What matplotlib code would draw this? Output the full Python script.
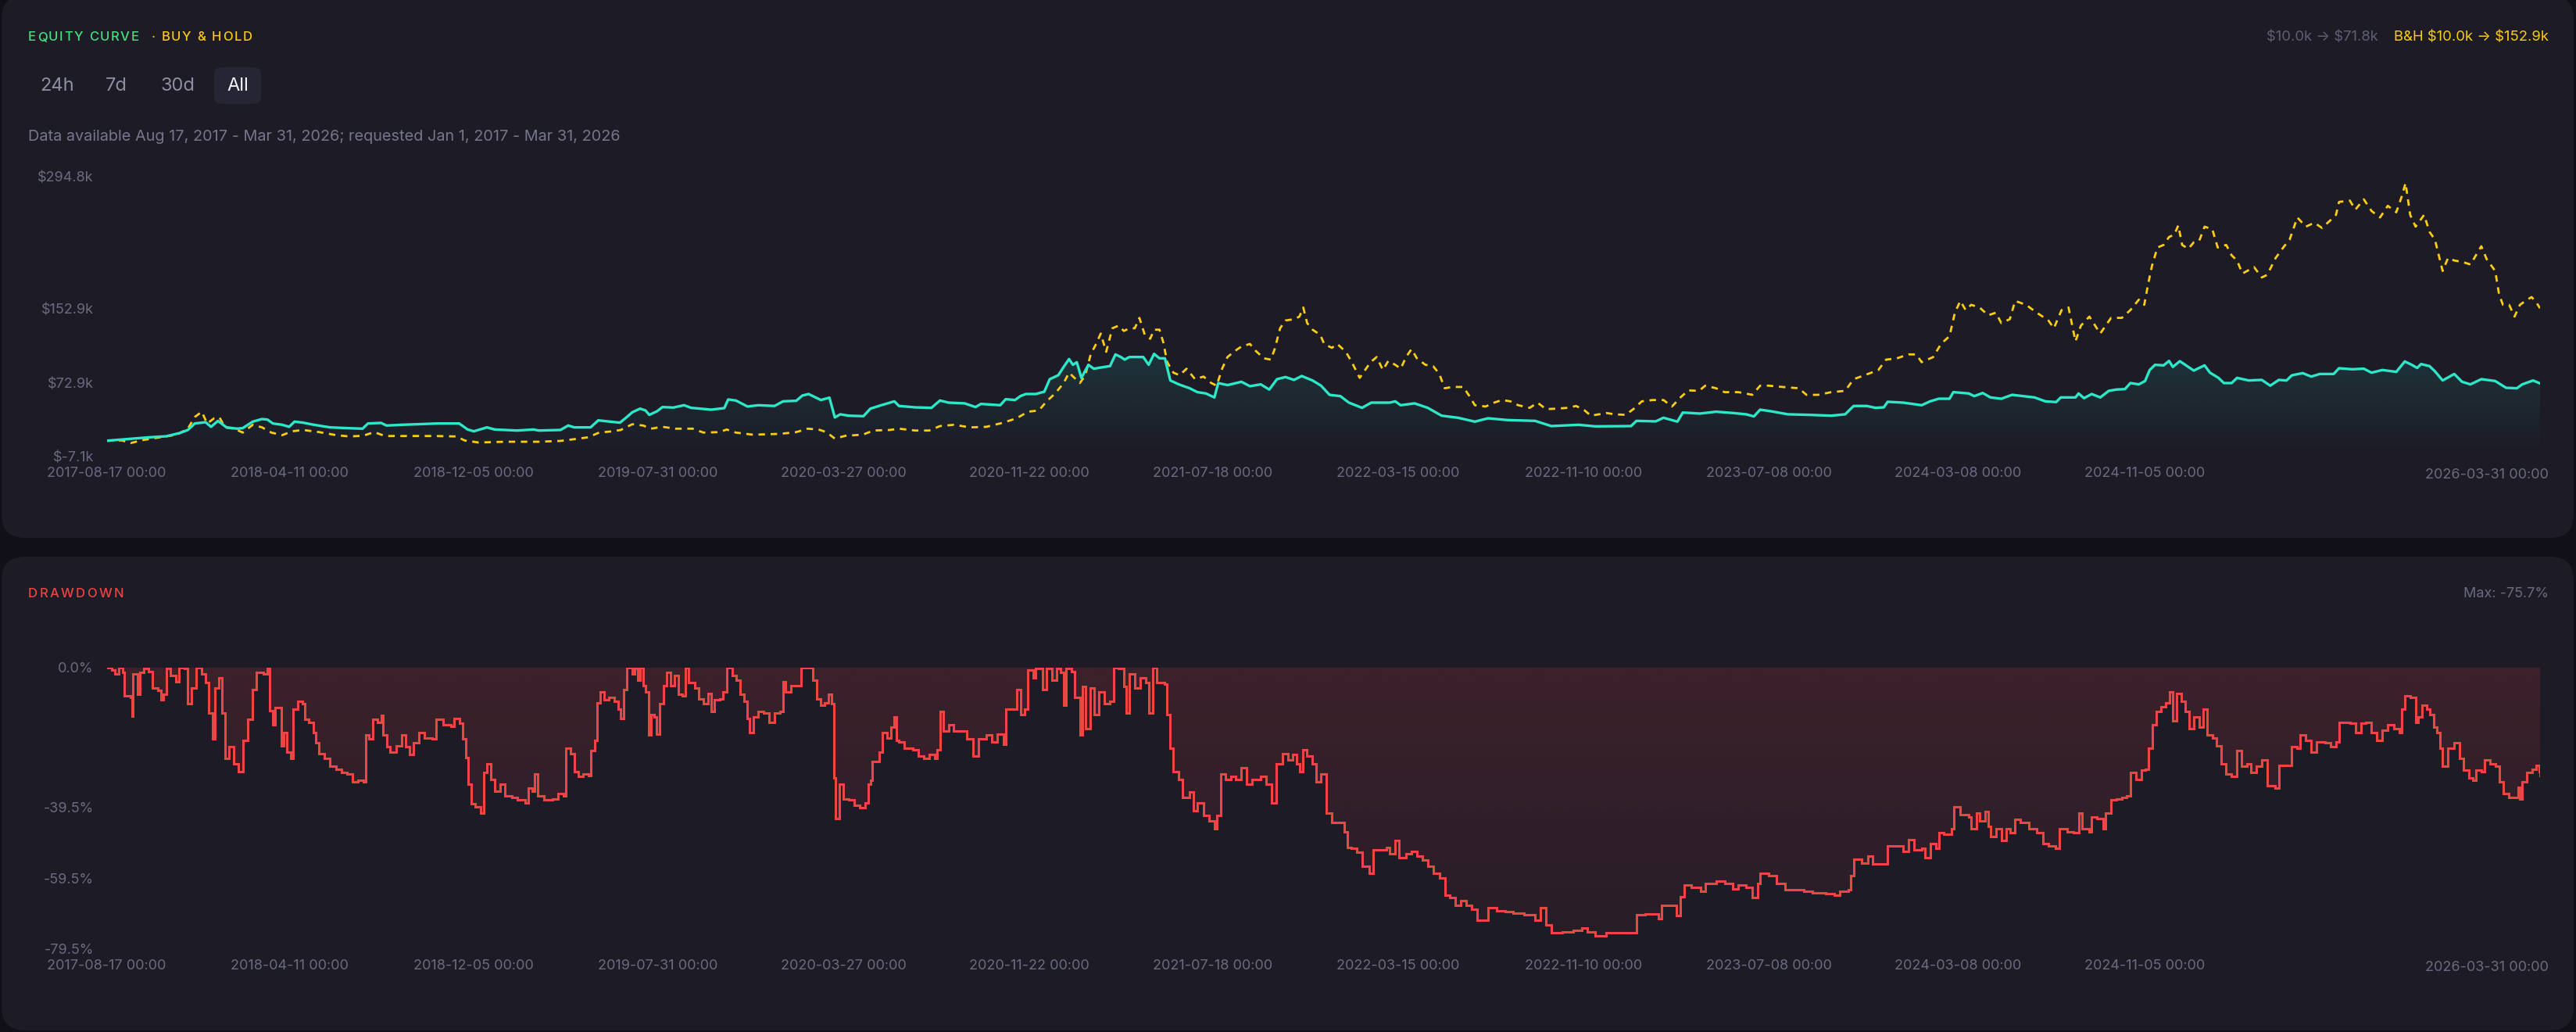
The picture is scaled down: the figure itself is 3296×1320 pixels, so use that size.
import datetime as dt
import numpy as np
import matplotlib
matplotlib.use('Agg')
import matplotlib.pyplot as plt
import matplotlib.dates as mdates
from matplotlib.patches import FancyBboxPatch, Polygon
from matplotlib.colors import to_rgb

plt.rcParams['font.family'] = ['Inter', 'DejaVu Sans']

W, H = 3296, 1320
BG = '#111019'
CARD = '#1c1b26'
MUTED = '#6b6b80'
CYAN = '#2ee6c8'
GOLD = '#facc15'
RED = '#ef4444'
GREEN = '#4ade80'
TICK_SIZE = 13

start = dt.datetime(2017, 8, 17)

# strategy equity, $k  (x = days since 2017-08-17)
eq_days = [0, 34, 55, 77, 94, 105, 114, 128, 135, 144,
           155, 169, 176, 189, 201, 208, 215, 227, 236, 243,
           254, 268, 289, 311, 331, 338, 355, 362, 382, 403,
           428, 456, 467, 475, 492, 502, 531, 552, 559, 587,
           597, 605, 626, 636, 651, 664, 673, 680, 690, 697,
           702, 712, 719, 733, 747, 756, 768, 782, 799, 804,
           814, 829, 843, 864, 875, 892, 900, 908, 917, 924,
           935, 942, 949, 960, 979, 988, 1002, 1019,
           1025, 1046, 1067, 1078, 1089, 1110, 1124, 1131, 1156, 1163,
           1175, 1182, 1189, 1202, 1213, 1220, 1231, 1238, 1245, 1250,
           1255, 1261, 1270, 1277, 1287, 1298, 1305, 1312, 1317, 1323,
           1341, 1348, 1355, 1362, 1369, 1376, 1387, 1401, 1411, 1422,
           1433, 1438, 1450, 1468, 1479, 1493, 1504, 1514, 1525, 1536,
           1546, 1560, 1571, 1582, 1596, 1607, 1624, 1636, 1660, 1667,
           1674, 1692, 1709, 1727, 1748, 1770, 1787, 1812, 1848, 1855,
           1869, 1904, 1926, 1972, 1979, 2004, 2014, 2032, 2039, 2061,
           2082, 2104, 2121, 2131, 2139, 2153, 2175, 2203, 2231, 2249,
           2260, 2277, 2288, 2299, 2304, 2324, 2348, 2359, 2370, 2384,
           2389, 2409, 2416, 2427, 2437, 2451, 2465, 2494, 2508, 2522,
           2528, 2547, 2551, 2558, 2568, 2579, 2590, 2600, 2611, 2618,
           2629, 2637, 2643, 2650, 2661, 2668, 2673, 2682, 2693, 2700,
           2714, 2721, 2732, 2739, 2749, 2756, 2771, 2788, 2799, 2810,
           2820, 2827, 2841, 2852, 2863, 2881, 2888, 2905, 2920, 2930,
           2944, 2962, 2973, 2982, 2989, 2994, 3005, 3012, 3022, 3037,
           3047, 3058, 3072, 3090, 3104, 3118, 3125, 3139, 3148]
eq_vals = [10.0, 12.3, 13.7, 14.8, 18.2, 21.6, 28.6, 30.0, 25.0, 31.4,
           24.4, 23.0, 23.6, 30.6, 33.4, 32.8, 28.6, 27.2, 25.0, 30.6,
           29.5, 27.2, 24.4, 23.6, 23.0, 28.6, 29.2, 26.4, 27.2, 27.8,
           28.6, 28.6, 22.1, 20.2, 24.4, 22.1, 21.0, 22.1, 21.0, 21.6,
           26.4, 24.4, 24.4, 32.0, 30.6, 29.5, 35.6, 40.7, 44.6, 42.7,
           37.9, 41.8, 46.3, 45.8, 48.3, 45.5, 44.6, 43.5, 45.2, 54.5,
           53.4, 46.9, 48.3, 47.5, 52.5, 53.1, 58.7, 60.4, 56.7, 53.9,
           56.5, 35.1, 38.5, 37.0, 36.5, 44.6, 48.3, 52.5,
           47.5, 46.0, 45.5, 53.4, 51.1, 50.3, 46.3, 49.7, 48.3, 54.8,
           53.9, 58.1, 60.4, 60.4, 62.9, 76.4, 80.6, 89.6, 98.1, 91.9,
           94.7, 77.8, 91.9, 87.7, 89.1, 90.5, 103.1, 100.3, 97.5, 100.3,
           100.3, 91.9, 103.7, 98.9, 98.9, 75.0, 70.8, 66.6, 62.4, 61.0,
           56.7, 72.2, 70.0, 73.6, 68.8, 70.8, 65.2, 76.4, 78.7, 75.6,
           79.8, 75.0, 69.4, 59.5, 58.1, 51.1, 45.5, 51.1, 51.1, 52.5,
           48.3, 50.3, 45.5, 37.0, 34.8, 30.6, 34.2, 32.3, 31.4, 29.5,
           25.8, 27.2, 25.5, 25.8, 31.4, 30.9, 34.8, 30.6, 40.4, 39.3,
           41.3, 39.9, 38.5, 36.2, 43.5, 41.8, 38.5, 37.9, 37.0, 38.5,
           47.5, 47.5, 45.5, 46.0, 52.0, 51.1, 48.3, 52.5, 55.3, 55.3,
           62.4, 61.0, 58.1, 61.5, 56.7, 55.3, 59.5, 56.7, 52.5, 51.7,
           56.7, 56.7, 61.0, 55.9, 60.4, 56.7, 63.8, 65.2, 65.7, 72.2,
           70.8, 74.4, 86.3, 91.9, 91.3, 96.1, 89.6, 95.8, 89.6, 85.7,
           91.3, 83.4, 77.8, 72.2, 72.2, 77.8, 75.0, 75.6, 69.4, 75.6,
           75.0, 80.6, 82.9, 79.2, 82.0, 82.0, 88.2, 87.1, 87.7, 83.4,
           86.3, 84.3, 95.5, 91.9, 88.5, 92.7, 90.5, 84.9, 75.0, 82.0,
           73.6, 70.8, 76.4, 74.4, 67.1, 66.6, 70.8, 75.0, 71.8]

# buy & hold equity, $k
bh_days = [0, 20, 31, 48, 69, 91, 105, 114, 123, 130,
           139, 146, 153, 165, 176, 189, 201, 213, 227, 240,
           254, 275, 297, 314, 332, 346, 360, 389, 424, 453,
           463, 481, 516, 559, 587, 605, 623, 637, 655, 665,
           680, 694, 704, 719, 736, 758, 772, 793, 802, 814,
           836, 871, 892, 907, 921, 931, 942, 956, 978, 992,
           1013,
           1025, 1046, 1064, 1078, 1096, 1117, 1138, 1160, 1177, 1192,
           1206, 1216, 1227, 1238, 1245, 1252, 1259, 1266, 1273, 1280,
           1286, 1293, 1301, 1309, 1316, 1323, 1330, 1336, 1343, 1350,
           1355, 1362, 1367, 1372, 1380, 1388, 1397, 1408, 1419, 1429,
           1436, 1443, 1450, 1459, 1468, 1479, 1486, 1497, 1506, 1511,
           1518, 1525, 1536, 1543, 1548, 1553, 1560, 1570, 1575, 1585,
           1592, 1603, 1610, 1621, 1628, 1635, 1643, 1651, 1658, 1667,
           1674, 1681, 1688, 1695, 1706, 1716, 1724, 1731, 1741, 1755,
           1763, 1770, 1784, 1795, 1805, 1816, 1826, 1841, 1851, 1862,
           1876, 1890, 1901, 1912, 1920, 1940, 1951, 1965, 1975, 1986,
           2000, 2014, 2025, 2036, 2046, 2060, 2068,
           2082, 2093, 2111, 2129, 2139, 2150, 2168, 2189, 2199, 2214,
           2231, 2249, 2260, 2274, 2292, 2302, 2316, 2331, 2341, 2348,
           2363, 2373, 2384, 2391, 2398, 2405, 2412, 2423, 2434, 2444,
           2451, 2462, 2469, 2483, 2497, 2512, 2519, 2529, 2538, 2547,
           2554, 2565, 2579, 2593, 2607, 2618, 2629, 2636, 2641, 2646,
           2653, 2661, 2668, 2675, 2680, 2685, 2693, 2700, 2707, 2714,
           2724, 2731, 2742, 2749, 2756, 2763, 2778, 2788, 2795, 2806,
           2817, 2824, 2834, 2845, 2856, 2866, 2877, 2884, 2888, 2902,
           2909, 2920, 2930, 2941, 2951, 2962, 2969, 2974, 2980, 2987,
           2998, 3005, 3012, 3017, 3022, 3029, 3037, 3047, 3058, 3065,
           3072, 3079, 3090, 3095, 3100, 3108, 3115, 3122, 3129, 3137,
           3143, 3148]
bh_vals = [10.0, 10.3, 7.5, 10.9, 13.7, 16.5, 23.0, 35.6, 41.3, 28.6,
           34.2, 35.1, 24.4, 23.0, 18.8, 27.2, 24.4, 18.8, 16.0, 20.2,
           21.6, 19.3, 16.0, 14.6, 15.4, 19.3, 15.1, 15.1, 15.1, 14.6,
           10.3, 8.1, 8.9, 8.9, 9.8, 11.7, 13.7, 18.8, 20.2, 21.6,
           27.8, 26.4, 23.0, 25.0, 23.0, 23.0, 18.8, 19.3, 22.1, 18.8,
           16.5, 17.4, 19.3, 23.0, 22.1, 19.3, 12.3, 15.4, 16.5, 21.0,
           21.6,
           23.0, 21.0, 21.0, 25.8, 27.2, 24.4, 25.0, 29.5, 34.2, 41.3,
           42.7, 52.5, 61.0, 72.2, 83.4, 77.8, 72.2, 80.6, 103.1, 114.4,
           125.6, 105.9, 131.3, 134.1, 128.4, 131.3, 131.3, 142.5, 124.2, 120.0,
           129.8, 129.8, 115.8, 94.7, 83.4, 80.6, 87.7, 76.4, 79.2, 72.2,
           69.4, 87.7, 100.3, 106.5, 111.6, 114.4, 107.3, 98.9, 97.5, 108.8,
           131.3, 139.7, 141.1, 143.9, 153.7, 136.9, 129.8, 124.2, 114.4, 110.2,
           114.4, 105.9, 96.1, 77.8, 86.3, 94.7, 100.3, 86.3, 96.1, 91.9,
           87.7, 100.3, 108.8, 98.9, 91.9, 90.5, 82.0, 66.6, 68.0, 68.0,
           58.1, 48.3, 46.9, 51.1, 53.9, 52.5, 48.3, 45.5, 51.1, 44.1,
           44.6, 45.5, 47.5, 42.7, 37.0, 39.9, 38.5, 37.9, 44.1, 52.5,
           53.9, 53.9, 46.9, 56.7, 64.3, 63.8, 69.4,
           66.6, 62.4, 62.4, 59.5, 69.4, 69.4, 68.0, 66.6, 59.5, 59.5,
           62.4, 63.8, 76.4, 80.6, 86.3, 97.5, 98.9, 103.1, 103.1, 94.7,
           100.3, 114.4, 122.8, 148.1, 160.8, 150.9, 156.6, 153.7, 145.3, 148.1,
           136.9, 141.1, 160.8, 156.6, 148.1, 139.7, 131.3, 150.9, 153.7, 117.2,
           134.1, 143.9, 125.6, 142.5, 142.5, 150.9, 162.2, 156.6, 179.1, 198.7,
           218.4, 221.2, 229.7, 232.5, 242.3, 221.2, 217.0, 224.0, 225.5, 240.9,
           238.1, 218.4, 221.2, 210.0, 204.4, 190.3, 197.3, 186.1, 188.9, 207.2,
           219.8, 226.9, 250.8, 240.9, 245.1, 239.5, 248.0, 253.6, 267.6, 269.0,
           259.2, 270.4, 257.8, 250.8, 263.4, 256.4, 273.3, 288.0, 253.6, 240.9,
           253.6, 235.3, 226.9, 210.0, 193.1, 207.2, 204.4, 203.0, 200.1, 210.0,
           219.8, 205.8, 193.1, 167.8, 156.6, 156.6, 143.9, 156.6, 160.8, 165.0,
           159.4, 152.9]

# strategy drawdown, %
dd_days = [0, 7, 11, 16, 21, 23, 31, 33, 34, 40,
           43, 48, 54, 59, 66, 70, 73, 77, 82, 89,
           94, 101, 105, 110, 116, 123, 128, 132, 137, 140,
           145, 149, 153, 158, 164, 170, 176, 183, 189, 194,
           203, 208, 211, 215, 218, 226, 229, 233, 238, 241,
           247, 253, 256, 261, 267, 270, 275, 282, 289, 297,
           304, 311, 318, 325, 332, 335, 339, 344, 350, 355,
           357, 362, 367, 375, 382, 387, 392, 397, 404, 411,
           421, 426, 435, 445, 449, 456, 461, 465, 468, 472,
           477, 484, 488, 492, 497, 502, 509, 515, 524, 531,
           541, 545, 551, 554, 558, 566, 577, 584, 591, 594,
           600, 605, 610, 616, 623, 626, 631, 634, 638, 644,
           650, 657, 662, 665, 669, 673, 680, 683, 687, 690,
           694, 697, 701, 704, 708, 711, 715, 720, 724, 729,
           735, 740, 745, 749, 753, 761, 766, 772, 778, 782,
           786, 793, 797, 802, 809, 814, 819, 825, 829, 832,
           837, 843, 850, 857, 864, 871, 875, 878, 885, 892,
           898, 907, 914, 919, 924, 929, 934, 938, 941, 943,
           948, 953, 960, 967, 974, 981, 985, 988, 990, 995,
           999, 1004, 1010, 1015, 1019, 1022,
           1025, 1032, 1043, 1050, 1057, 1064, 1071, 1074, 1078, 1082,
           1089, 1096, 1106, 1113, 1121, 1128, 1138, 1145, 1152, 1160,
           1163, 1170, 1177, 1182, 1188, 1192, 1199, 1202, 1211, 1216,
           1223, 1229, 1234, 1238, 1241, 1248, 1252, 1259, 1262, 1266,
           1272, 1277, 1284, 1291, 1298, 1303, 1309, 1316, 1319, 1323,
           1330, 1337, 1344, 1348, 1353, 1358, 1369, 1372, 1376, 1380,
           1387, 1392, 1401, 1406, 1411, 1419, 1426, 1433, 1436, 1441,
           1447, 1454, 1461, 1468, 1475, 1482, 1493, 1500, 1507, 1513,
           1521, 1528, 1534, 1539, 1543, 1547, 1553, 1560, 1565, 1571,
           1578, 1585, 1592, 1601, 1605, 1610, 1617, 1624, 1633, 1638,
           1649, 1656, 1660, 1667, 1672, 1681, 1688, 1695, 1702, 1709,
           1716, 1724, 1731, 1738, 1745, 1752, 1759, 1766, 1773, 1784,
           1787, 1798, 1809, 1819, 1834, 1848, 1855, 1862, 1869, 1883,
           1897, 1908, 1915, 1926, 1940, 1954, 1972, 1979, 1990, 2007,
           2012, 2024, 2031, 2036, 2041, 2050, 2062, 2068,
           2082, 2093, 2104, 2111, 2121, 2129, 2136, 2139, 2150, 2160,
           2171, 2185, 2196, 2207, 2214, 2224, 2235, 2242, 2253, 2256,
           2260, 2270, 2278, 2285, 2295, 2304, 2317, 2324, 2331, 2338,
           2348, 2352, 2359, 2366, 2370, 2377, 2387, 2390, 2398, 2409,
           2412, 2419, 2423, 2430, 2434, 2437, 2444, 2451, 2457, 2462,
           2469, 2476, 2487, 2497, 2505, 2512, 2521, 2526, 2536, 2544,
           2551, 2556, 2565, 2568, 2575, 2583, 2586, 2593, 2600, 2607,
           2613, 2618, 2625, 2632, 2637, 2641, 2646, 2652, 2658, 2664,
           2669, 2673, 2678, 2684, 2689, 2694, 2700, 2707, 2712, 2717,
           2724, 2729, 2735, 2742, 2749, 2756, 2762, 2769, 2774, 2781,
           2788, 2795, 2805, 2810, 2820, 2826, 2834, 2838, 2845, 2852,
           2859, 2870, 2877, 2884, 2888, 2902, 2909, 2916, 2923, 2930,
           2937, 2944, 2951, 2959, 2966, 2969, 2973, 2980, 2987, 2990,
           2995, 3001, 3005, 3010, 3015, 3019, 3022, 3029, 3037, 3044,
           3049, 3056, 3061, 3065, 3072, 3076, 3083, 3090, 3095, 3100,
           3108, 3115, 3120, 3122, 3125, 3131, 3138, 3143, 3147, 3148]
dd_vals = [0.0, -0.7, -1.8, 0.0, -1.4, -8.0, -8.4, -13.7, -1.8, -7.6,
           -1.4, -0.3, -1.0, -5.8, -6.5, -9.1, -7.6, -0.3, -2.1, -4.0,
           0.0, -0.3, -10.2, -5.8, 0.0, -1.8, -4.3, -12.8, -20.1, -5.8,
           -2.9, -12.8, -25.7, -22.4, -27.1, -29.3, -20.5, -14.6, -6.2, -1.4,
           -1.8, 0.0, -12.1, -16.1, -11.3, -22.0, -18.3, -23.8, -25.7, -11.7,
           -9.5, -10.2, -14.6, -15.4, -18.3, -21.3, -24.2, -25.7, -27.9, -28.6,
           -29.7, -30.1, -32.3, -31.9, -32.3, -19.0, -20.1, -14.6, -15.4, -13.5,
           -19.0, -22.4, -23.8, -22.0, -19.0, -22.4, -24.6, -21.3, -18.3, -19.8,
           -20.1, -14.6, -16.1, -16.5, -14.3, -15.7, -20.1, -25.3, -33.0, -38.5,
           -39.3, -41.1, -29.7, -27.1, -31.5, -34.9, -33.0, -36.3, -36.7, -37.4,
           -38.2, -34.1, -34.9, -30.1, -36.3, -37.4, -37.1, -35.6, -36.3, -22.7,
           -24.2, -29.3, -30.8, -30.1, -30.4, -23.5, -20.5, -9.9, -6.9, -9.1,
           -8.4, -9.5, -11.7, -14.3, -6.2, 0.0, -1.8, -0.3, -3.6, 0.0,
           -5.1, -6.9, -19.0, -13.2, -13.9, -18.7, -10.2, -5.1, -1.4, -5.1,
           -2.1, -7.6, -8.0, 0.0, -4.3, -5.8, -8.8, -10.2, -7.3, -12.4,
           -9.1, -8.8, -6.9, 0.0, -2.1, -3.6, -7.6, -9.5, -14.3, -18.3,
           -13.9, -12.4, -12.8, -15.4, -12.8, -12.4, -4.0, -6.9, -5.1, -5.1,
           0.0, 0.0, -3.6, -8.8, -10.6, -9.9, -7.6, -10.2, -31.2, -42.6,
           -33.0, -37.1, -37.4, -38.9, -39.6, -38.2, -33.0, -31.9, -26.4, -26.4,
           -23.8, -18.3, -19.8, -16.8, -13.9, -20.5,
           -20.9, -22.7, -23.1, -24.9, -25.7, -24.6, -25.7, -23.1, -12.4, -17.9,
           -16.1, -17.9, -17.9, -20.1, -24.9, -20.1, -19.0, -20.9, -18.7, -21.6,
           -11.7, -11.7, -6.2, -13.2, -11.7, -0.7, -2.9, -0.3, -6.2, -0.3,
           -3.6, -0.3, -1.4, -10.6, -0.3, -1.0, -8.4, -19.0, -5.4, -17.2,
           -5.8, -13.2, -6.9, -10.2, -9.5, 0.0, -0.3, -5.4, -12.8, -1.8,
           -5.8, -2.9, -4.3, -12.8, 0.0, -4.3, -4.7, -13.2, -22.7, -29.3,
           -31.5, -36.7, -35.2, -40.4, -38.2, -41.8, -43.3, -45.5, -41.8, -30.1,
           -31.5, -30.8, -31.5, -28.2, -33.0, -31.5, -30.8, -33.0, -38.2, -27.1,
           -24.2, -26.0, -24.6, -27.1, -29.3, -23.1, -24.9, -27.1, -32.3, -30.1,
           -41.1, -43.7, -43.7, -46.3, -50.7, -51.0, -52.1, -56.2, -58.0, -51.4,
           -51.4, -50.7, -52.5, -48.8, -53.6, -52.5, -51.8, -53.2, -54.3, -56.2,
           -58.0, -59.5, -64.3, -65.0, -67.2, -65.7, -67.2, -68.3, -71.3, -71.3,
           -67.9, -68.7, -69.0, -69.4, -69.8, -71.3, -67.9, -72.7, -74.9, -74.6,
           -74.2, -73.5, -74.6, -75.7, -74.9, -74.9, -74.8, -69.8, -69.6, -70.9,
           -67.2, -67.2, -70.1, -64.6, -61.3, -62.1, -63.2, -61.0,
           -60.2, -61.0, -62.4, -61.3, -62.1, -65.0, -61.0, -58.0, -58.8, -61.0,
           -62.8, -62.8, -63.2, -63.5, -63.5, -63.9, -64.3, -63.2, -62.8, -58.8,
           -54.0, -55.1, -53.2, -55.4, -55.4, -50.3, -50.3, -51.8, -48.5, -51.4,
           -51.0, -53.6, -49.6, -51.0, -46.6, -47.0, -45.5, -39.3, -41.5, -42.2,
           -45.5, -41.1, -43.3, -40.7, -44.8, -47.7, -45.5, -48.8, -45.5, -46.6,
           -42.9, -43.7, -45.5, -46.6, -49.6, -50.3, -51.0, -45.5, -46.3, -46.6,
           -41.1, -45.5, -46.3, -42.2, -42.6, -45.5, -41.1, -37.4, -37.1, -36.7,
           -36.3, -29.7, -31.5, -29.0, -28.6, -22.7, -16.1, -12.4, -11.0, -9.9,
           -6.9, -15.0, -7.3, -9.5, -12.4, -17.2, -13.9, -16.8, -11.7, -19.0,
           -19.8, -22.0, -27.1, -30.1, -30.8, -23.5, -27.9, -27.1, -29.7, -27.9,
           -26.0, -33.4, -34.1, -27.5, -27.5, -22.4, -22.7, -19.0, -20.5, -23.8,
           -20.9, -21.3, -22.4, -20.9, -15.4, -15.7, -18.3, -15.7, -15.4, -18.3,
           -20.5, -17.6, -16.1, -17.2, -18.3, -11.7, -8.0, -8.4, -15.4, -13.9,
           -10.6, -11.7, -13.2, -16.8, -18.3, -22.7, -27.9, -22.7, -21.3, -25.7,
           -29.0, -31.2, -31.9, -29.0, -29.3, -26.0, -27.1, -27.9, -32.3, -35.6,
           -36.7, -36.7, -33.8, -37.1, -32.3, -29.7, -28.6, -27.5, -29.3, -30.4]

tick_dates = ['2017-08-17', '2018-04-11', '2018-12-05', '2019-07-31',
              '2020-03-27', '2020-11-22', '2021-07-18', '2022-03-15',
              '2022-11-10', '2023-07-08', '2024-03-08', '2024-11-05',
              '2026-03-31']
eq_ticks = [-7.1, 72.9, 152.9, 294.8]
eq_tick_labels = [r'\$-7.1k', r'\$72.9k', r'\$152.9k', r'\$294.8k']
dd_ticks = [0.0, -39.5, -59.5, -79.5]
dd_tick_labels = ['0.0%', '-39.5%', '-59.5%', '-79.5%']
end_day = 3148


def to_num(days):
    return mdates.date2num([start + dt.timedelta(days=d) for d in days])


def steps(x, y):
    return np.repeat(x, 2)[1:], np.repeat(y, 2)[:-1]


def gradient_fill(ax, xs, ys, base, color, a_hi, a_lo, y_hi, y_lo):
    verts = np.column_stack([np.r_[xs[0], xs, xs[-1]], np.r_[base, ys, base]])
    poly = Polygon(verts, closed=True, fc='none', ec='none')
    ax.add_patch(poly)
    g = np.zeros((256, 1, 4))
    g[..., :3] = to_rgb(color)
    g[:, 0, 3] = np.linspace(a_hi, a_lo, 256)
    im = ax.imshow(g, aspect='auto', origin='upper', interpolation='bilinear',
                   extent=[xs[0], xs[-1], y_lo, y_hi], zorder=1)
    im.set_clip_path(poly)


def spaced(ax, x, y, s, size, color, gap, weight='medium'):
    r = fig.canvas.get_renderer()
    for ch in s:
        if ch == ' ':
            x += size * 100 / 72 * 0.28 + gap
            continue
        t = ax.text(x, y, ch, ha='left', va='center', fontsize=size,
                    color=color, fontweight=weight)
        x += t.get_window_extent(renderer=r).width + gap
    return x


def style_axes(ax, yticks, ylabels, ylim):
    x0, x1 = to_num([0, end_day])
    ax.set_xlim(x0, x1)
    ax.set_ylim(*ylim)
    ax.set_facecolor('none')
    for s in ax.spines.values():
        s.set_visible(False)
    tx = mdates.date2num([dt.datetime.strptime(d, '%Y-%m-%d') for d in tick_dates])
    ax.set_xticks(tx[:-1])
    ax.set_xticklabels([d + ' 00:00' for d in tick_dates[:-1]])
    ax.set_yticks(yticks)
    ax.set_yticklabels(ylabels)
    ax.tick_params(length=0, labelsize=TICK_SIZE, labelcolor=MUTED)
    ax.tick_params(axis='x', pad=9)
    ax.tick_params(axis='y', pad=12)
    ax.annotate(tick_dates[-1] + ' 00:00', xy=(1, 0), xycoords='axes fraction',
                xytext=(11 * 0.72, -23 * 0.72), textcoords='offset points',
                ha='right', va='center', fontsize=TICK_SIZE, color=MUTED)


fig = plt.figure(figsize=(W / 100, H / 100), dpi=100, facecolor=BG)

# background cards (pixel coordinates)
bg = fig.add_axes([0, 0, 1, 1])
bg.set_xlim(0, W)
bg.set_ylim(H, 0)
bg.axis('off')
for y, h in [(-6, 694), (712, 606)]:
    bg.add_patch(FancyBboxPatch((2, y), W - 5, h, boxstyle='round,pad=0,rounding_size=30',
                                fc=CARD, ec='none'))
bg.add_patch(FancyBboxPatch((274, 86), 60, 47, boxstyle='round,pad=0,rounding_size=10',
                            fc='#262533', ec='none'))

# header texts
x = spaced(bg, 36, 48, 'EQUITY CURVE', 12, GREEN, 1.6)
spaced(bg, x + 14, 48, '· BUY & HOLD', 12, GOLD, 1.6)
for label, cx in [('24h', 73), ('7d', 149), ('30d', 227), ('All', 304)]:
    bg.text(cx, 110, label, ha='center', va='center', fontsize=17,
            color='#f2f2f7' if label == 'All' else '#8e8ea3')
bg.text(36, 175, 'Data available Aug 17, 2017 - Mar 31, 2026; requested Jan 1, 2017 - Mar 31, 2026',
        ha='left', va='center', fontsize=14.3, color='#76768c')
bg.text(3261, 48, r'B&H \$10.0k → \$152.9k', ha='right', va='center', fontsize=13.3, color=GOLD)
bg.text(3043, 48, r'\$10.0k → \$71.8k', ha='right', va='center', fontsize=13.3, color='#5f5f74')
spaced(bg, 36, 759, 'DRAWDOWN', 12, RED, 2.4)
bg.text(3261, 759, 'Max: -75.7%', ha='right', va='center', fontsize=13, color=MUTED)

# equity panel
ax1 = fig.add_axes([136.5 / W, 1 - 584 / H, (3250 - 136.5) / W, (584 - 226) / H])
ex = to_num(eq_days)
bx = to_num(bh_days)
gradient_fill(ax1, ex, np.array(eq_vals), -7.1, '#2dd4bf', 0.14, 0.0, 108, -7.1)
ax1.plot(bx, bh_vals, color=GOLD, lw=2.0, dashes=(3, 2.6), zorder=3)
ax1.plot(ex, eq_vals, color=CYAN, lw=2.4, zorder=4)
style_axes(ax1, eq_ticks, eq_tick_labels, (-7.1, 294.8))

# drawdown panel
ax2 = fig.add_axes([136.5 / W, 1 - 1214 / H, (3250 - 136.5) / W, (1214 - 854) / H])
dx, dy = steps(to_num(dd_days), np.array(dd_vals))
gradient_fill(ax2, dx, dy, 0.0, RED, 0.155, 0.05, 0.0, -79.5)
ax2.plot(dx, dy, color=RED, lw=2.2, zorder=3, solid_joinstyle='miter')
style_axes(ax2, dd_ticks, dd_tick_labels, (-79.5, 0.0))

fig.savefig('out.png', dpi=100, facecolor=BG)
